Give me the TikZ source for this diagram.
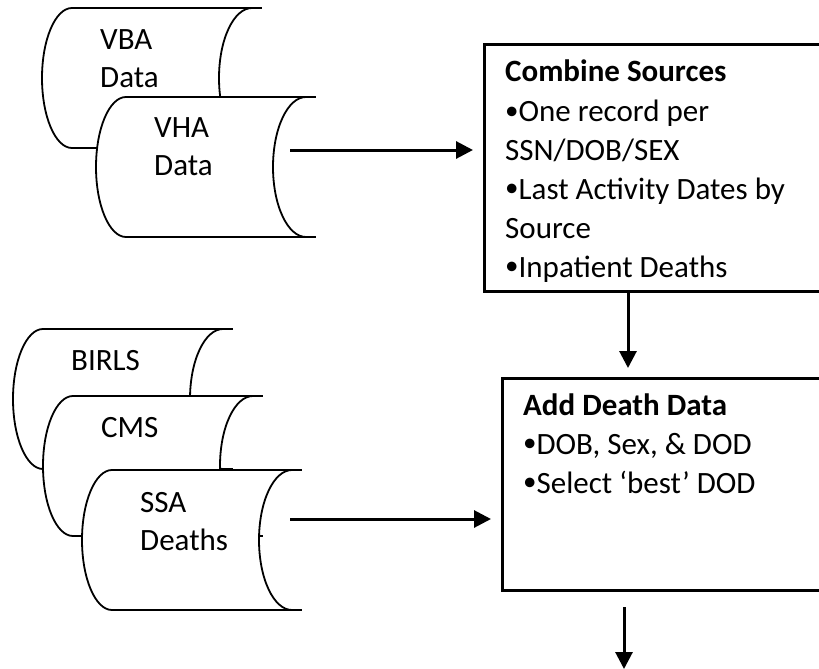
\documentclass[tikz,border=0pt]{standalone}
\usepackage{fontspec}
\setmainfont{Carlito}
\usetikzlibrary{arrows.meta,positioning}
\newcommand\listdot{{\fontsize{27}{27}\selectfont\raisebox{2.5pt}{•}}}

\begin{document}
\begin{tikzpicture}[x=1pt,y=-1pt]
        \tikzstyle{store}=[draw=black,line width=1.8pt,fill=white]
        \tikzstyle{storetext}=[anchor=base west,align=left,inner sep=0pt,font=\fontsize{31}{38}\selectfont]
        \tikzstyle{stepbox}=[draw=black,line width=2.6pt,anchor=north west,inner sep=0pt]
        \tikzstyle{boxtext}=[anchor=base west,align=left,inner sep=0pt,font=\fontsize{31}{38.8}\selectfont]
        \tikzstyle{edge}=[draw,line width=3pt,-{Triangle[length=17pt,width=17pt]}]
        \useasboundingbox (0,0) rectangle (819,669);
        \clip (0,0) rectangle (819,669);
        % data sources (\b = baseline of the last text line)
        \foreach \x/\y/\b/\nm/\txt in {72/8/80/vba/{VBA\\Data}, 126/97/78/vha/{VHA\\Data}, 43/329/41/birls/{BIRLS}, 73/396/41/cms/{CMS}, 112/470/80/ssa/{SSA\\Deaths}}{
                \filldraw[store] (\x,\y) -- (\x+180,\y) arc[start angle=90,end angle=270,x radius=33pt,y radius=70pt] -- (\x,\y+140) arc[start angle=270,end angle=90,x radius=30pt,y radius=70pt] -- cycle;
                \draw[store] (\x+180,\y) -- (\x+190,\y) (\x+180,\y+140) -- (\x+190,\y+140);
                \node[storetext] (\nm) at (\x+28,\y+\b) {\txt};
        }
        \coordinate (vhaout) at (290,150);
        \coordinate (ssaout) at (290,519);
        % processing steps
        \node[stepbox,minimum width=400pt,minimum height=247pt] (comb) at (483,43) {};
        \node[boxtext] (combtext) at (505,277) {\textbf{Combine Sources}\\[2pt]\listdot One record per\\SSN/DOB/SEX\\\listdot Last Activity Dates by\\Source\\\listdot Inpatient Deaths};
        \node[stepbox,minimum width=400pt,minimum height=212pt] (death) at (501,377) {};
        \node[boxtext] (deathtext) at (523,493) {\textbf{Add Death Data}\\\listdot DOB, Sex, \& DOD\\\listdot Select ‘best’ DOD};
        \coordinate (combout) at ([xshift=145pt]comb.south west);
        \coordinate (deathout) at (624,607);
        \coordinate (nextstep) at (624,669);
        % flow
        \path[edge,shorten >=10pt] (vhaout) -- (vhaout -| comb.west);
        \path[edge,shorten >=10pt] (ssaout) -- (ssaout -| death.west);
        \path[edge,shorten >=9pt] (combout) -- (combout |- death.north);
        \path[edge] (deathout) -- (nextstep);
\end{tikzpicture}
\end{document}
